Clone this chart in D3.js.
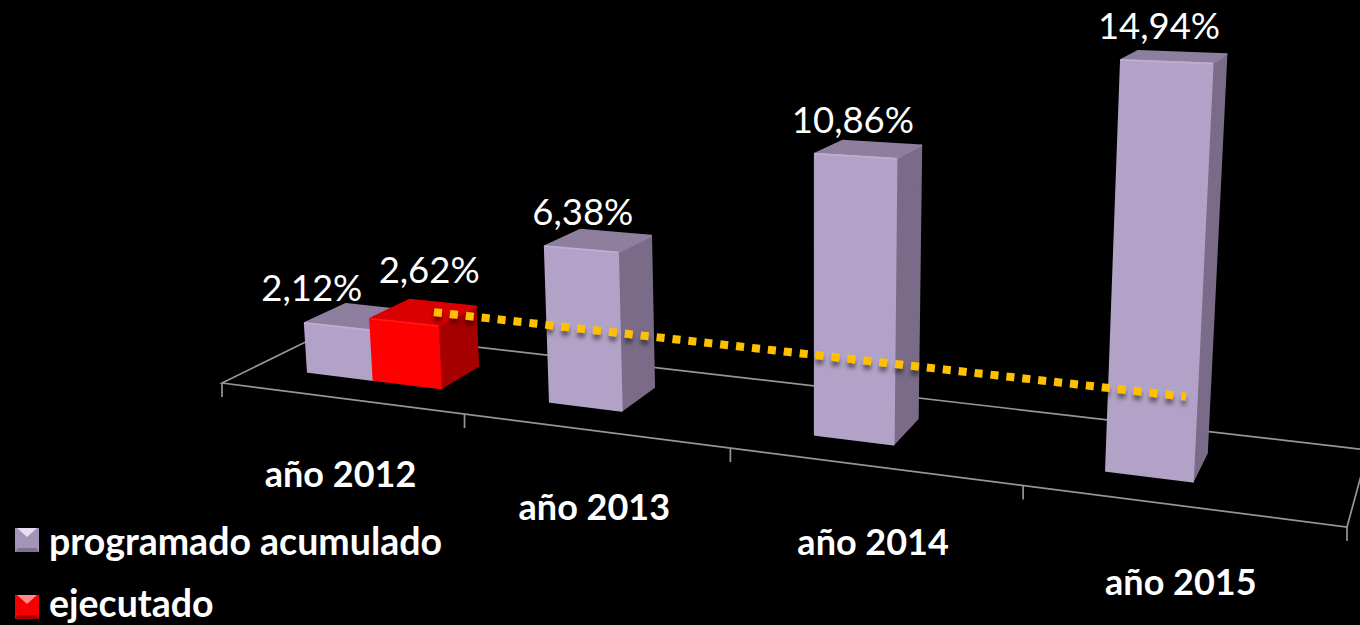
<!DOCTYPE html>
<html>
<head>
<meta charset="utf-8">
<script src="https://cdn.jsdelivr.net/npm/d3@7"></script>
<style>
  html, body { margin: 0; padding: 0; background: #000; overflow: hidden; }
  text { font-family: Lato, sans-serif; fill: #fff; }
</style>
</head>
<body>
<script>
const categories = ['año 2012', 'año 2013', 'año 2014', 'año 2015'];
const seriesNames = ['programado acumulado', 'ejecutado'];
const programado = [2.12, 6.38, 10.86, 14.94];
const ejecutado = [2.62, null, null, null];
const labels = ['2,12%', '6,38%', '10,86%', '14,94%'];
const ejecutadoLabels = ['2,62%', null, null, null];

const width = 1360;
const height = 625;

// floor corners on screen, the chart is a perspective view of a 3d column chart
const floor = {a: [222, 383], b: [1347, 527], d: [1368, 450], c: [330, 330]};

function makeHomography({a, b, c, d}) {
  const dx1 = b[0] - d[0], dx2 = c[0] - d[0], sx = a[0] - b[0] + d[0] - c[0];
  const dy1 = b[1] - d[1], dy2 = c[1] - d[1], sy = a[1] - b[1] + d[1] - c[1];
  const den = dx1 * dy2 - dx2 * dy1;
  const g = (sx * dy2 - dx2 * sy) / den;
  const h = (dx1 * sy - sx * dy1) / den;
  const m = [b[0] - a[0] + g * b[0], c[0] - a[0] + h * c[0], a[0],
             b[1] - a[1] + g * b[1], c[1] - a[1] + h * c[1], a[1]];
  return (u, v) => {
    const w = g * u + h * v + 1;
    return [(m[0] * u + m[1] * v + m[2]) / w, (m[3] * u + m[4] * v + m[5]) / w];
  };
}
const floorAt = makeHomography(floor);

// category position along the floor, clustered like the original column chart
const xCat = d3.scaleBand().domain(categories).range([0, 1]).paddingInner(0.44).paddingOuter(0.22);
const xSeries = d3.scaleBand().domain(seriesNames).range([0, xCat.bandwidth()]);
const depth = d3.scaleLinear().domain([0, 1]).range([0.31, 0.7]);
// pixels per percent grows towards the viewer
const unit = d3.scaleLinear().domain([373, 482]).range([23.1, 28]);
const leanX = d3.scaleLinear().domain([814, 1214]).range([0, 0.05]);

function project(u, v, value) {
  const [x, y] = floorAt(u, v);
  const h = value * unit(y);
  return [x + h * leanX(x), y - h];
}

const svg = d3.select('body').append('svg')
  .attr('width', width)
  .attr('height', height)
  .style('display', 'block')
  .style('background', '#000');

const defs = svg.append('defs');
const soft = defs.append('filter').attr('id', 'soft');
soft.append('feGaussianBlur').attr('stdDeviation', 0.6);
const shadow = defs.append('filter').attr('id', 'shadow')
  .attr('x', '-5%').attr('y', '-50%').attr('width', '110%').attr('height', '300%');
shadow.append('feDropShadow')
  .attr('dx', 0).attr('dy', 5).attr('stdDeviation', 2)
  .attr('flood-color', '#000').attr('flood-opacity', 0.45);

const line = d3.line();

// floor and axis
const gFloor = svg.append('g').attr('filter', 'url(#soft)')
  .attr('fill', 'none').attr('stroke', '#969696').attr('stroke-width', 1.7);
gFloor.append('path')
  .attr('d', line([floorAt(0, 0), floorAt(1, 0), floorAt(1, 1), floorAt(0, 1)]) + 'Z');
gFloor.selectAll('.tick')
  .data(d3.range(categories.length + 1))
  .join('path')
  .attr('class', 'tick')
  .attr('d', i => {
    const p = floorAt(i / categories.length, 0);
    return line([p, [p[0], p[1] + 14]]);
  });

const faces = {
  [seriesNames[0]]: {front: '#b3a2c7', top: '#8e7f9f', side: '#7a6c88', edge: '#bfb0d3'},
  [seriesNames[1]]: {front: '#ff0000', top: '#d80000', side: '#a60000', edge: '#ff1a1a'}
};

const bars = [];
categories.forEach((cat, i) => {
  bars.push({cat, series: seriesNames[0], value: programado[i], label: labels[i]});
  if (ejecutado[i] !== null) {
    bars.push({cat, series: seriesNames[1], value: ejecutado[i], label: ejecutadoLabels[i]});
  }
});

function corners(d) {
  const u0 = xCat(d.cat) + xSeries(d.series);
  const u1 = u0 + xSeries.bandwidth();
  const v0 = depth(0);
  const v1 = depth(1);
  return {
    fl: project(u0, v0, 0), fr: project(u1, v0, 0), br: project(u1, v1, 0),
    tfl: project(u0, v0, d.value), tfr: project(u1, v0, d.value),
    tbr: project(u1, v1, d.value), tbl: project(u0, v1, d.value)
  };
}

const gBars = svg.append('g').attr('filter', 'url(#soft)');
const bar = gBars.selectAll('g').data(bars).join('g');
bar.each(function(d) {
  const c = corners(d);
  const col = faces[d.series];
  const g = d3.select(this).attr('stroke-linejoin', 'round').attr('stroke-width', 2);
  g.append('path').attr('d', line([c.fr, c.br, c.tbr, c.tfr]) + 'Z').attr('fill', col.side).attr('stroke', col.side);
  g.append('path').attr('d', line([c.tfl, c.tfr, c.tbr, c.tbl]) + 'Z').attr('fill', col.top).attr('stroke', col.top);
  g.append('path').attr('d', line([c.fl, c.fr, c.tfr, c.tfl]) + 'Z').attr('fill', col.front).attr('stroke', col.front);
  g.append('path').attr('d', line([c.tfl, c.tfr])).attr('fill', 'none').attr('stroke', col.edge).attr('stroke-width', 1.5);
});

// trend of the executed value, drawn at its height across the floor
const trendFrom = xCat(categories[0]) + xSeries(seriesNames[1]) + 0.62 * xSeries.bandwidth();
const trendTo = xCat(categories[3]) + xSeries(seriesNames[0]) + 0.82 * xSeries.bandwidth();
svg.append('path')
  .attr('d', line([project(trendFrom, 0.53, ejecutado[0]), project(trendTo, 0.46, ejecutado[0])]))
  .attr('fill', 'none')
  .attr('stroke', '#ffc000')
  .attr('stroke-width', 8)
  .attr('stroke-dasharray', '8 8')
  .attr('filter', 'url(#shadow)');

// value labels
const labelShift = {
  default: [38, -21],
  [seriesNames[0] + categories[0]]: [7, -22],
  [seriesNames[1] + categories[0]]: [59, -36]
};
svg.append('g').selectAll('text')
  .data(bars)
  .join('text')
  .attr('text-anchor', 'middle')
  .attr('font-size', 36.5)
  .attr('x', d => corners(d).tfl[0] + (labelShift[d.series + d.cat] || labelShift.default)[0])
  .attr('y', d => corners(d).tfl[1] + (labelShift[d.series + d.cat] || labelShift.default)[1])
  .text(d => d.label);

// category labels
svg.append('g').selectAll('text')
  .data(categories)
  .join('text')
  .attr('text-anchor', 'middle')
  .attr('font-size', 36)
  .attr('font-weight', 700)
  .attr('x', d => floorAt(xCat(d) + xCat.bandwidth() / 2, 0)[0])
  .attr('y', d => floorAt(xCat(d) + xCat.bandwidth() / 2, 0)[1] + 89)
  .text(d => d);

// legend
const swatchY = d3.scalePoint().domain(seriesNames).range([528, 595]);
const legendTextY = d3.scalePoint().domain(seriesNames).range([555, 617]);
const swatch = {
  [seriesNames[0]]: {body: '#a394b8', light: '#e6deef', dark: '#7f7194'},
  [seriesNames[1]]: {body: '#f40000', light: '#ff8a8a', dark: '#a80000'}
};
const legend = svg.append('g').selectAll('g')
  .data(seriesNames)
  .join('g');
const swatchG = legend.append('g')
  .attr('transform', d => `translate(15,${swatchY(d)})`)
  .attr('filter', 'url(#soft)');
swatchG.append('rect')
  .attr('width', 24).attr('height', 24)
  .attr('fill', d => swatch[d].body);
swatchG.append('path')
  .attr('d', line([[2, 0], [22, 0], [12, 9]]) + 'Z')
  .attr('fill', d => swatch[d].light);
swatchG.append('path')
  .attr('d', line([[0, 24], [24, 24], [21, 20], [3, 20]]) + 'Z')
  .attr('fill', d => swatch[d].dark);
legend.append('text')
  .attr('x', 49)
  .attr('y', d => legendTextY(d))
  .attr('font-size', 37.5)
  .attr('font-weight', 700)
  .text(d => d);
</script>
</body>
</html>
